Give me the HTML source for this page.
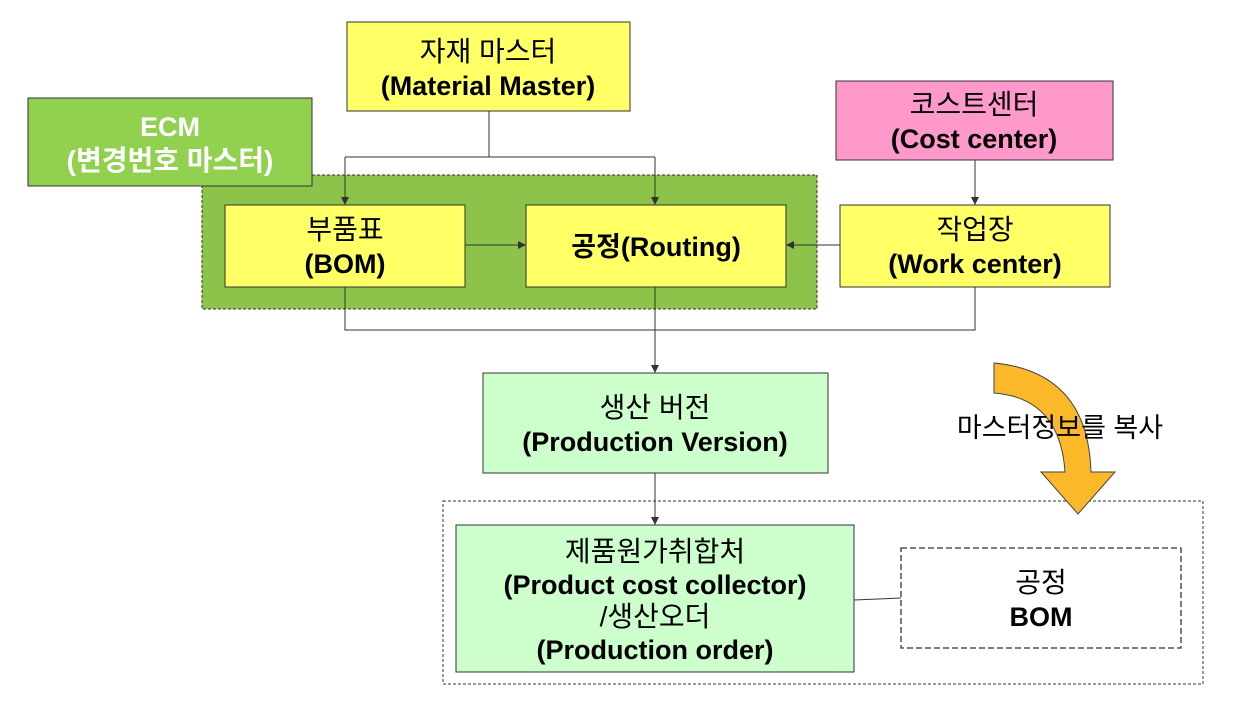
<!DOCTYPE html>
<html><head><meta charset="utf-8"><style>
body{margin:0;background:#fff;}
svg text{font-family:"Liberation Sans","Noto Sans CJK KR",sans-serif;font-size:27px;text-anchor:middle;}
.b{font-weight:bold;}
.k{font-size:28px;}
</style></head><body>
<svg width="1233" height="703" xmlns="http://www.w3.org/2000/svg">
<defs><marker id="a" markerWidth="8" markerHeight="8" refX="7" refY="4" orient="auto" markerUnits="userSpaceOnUse"><path d="M0,0 L8,4 L0,8 z" fill="#333"/></marker></defs>
<rect x="202" y="175" width="615" height="134" fill="#8DC34A" stroke="#333" stroke-dasharray="3,2"/>
<g stroke="#333" stroke-width="1" fill="none">
<polyline points="489,111 489,157"/>
<polyline points="345,157 655,157"/>
<line x1="345" y1="157" x2="345" y2="204" marker-end="url(#a)"/>
<line x1="655" y1="157" x2="655" y2="204" marker-end="url(#a)"/>
<line x1="465" y1="245" x2="525" y2="245" marker-end="url(#a)"/>
<line x1="840" y1="245" x2="787" y2="245" marker-end="url(#a)"/>
<line x1="975" y1="160" x2="975" y2="204" marker-end="url(#a)"/>
<polyline points="345,287 345,330 975,330 975,287"/>
<line x1="655" y1="287" x2="655" y2="372" marker-end="url(#a)"/>
<line x1="655" y1="473" x2="655" y2="524" marker-end="url(#a)"/>
<line x1="854" y1="600" x2="901" y2="598"/>
</g>
<rect x="347" y="22" width="283" height="89" fill="#FFFF66" stroke="#333"/>
<text class="k" x="488" y="61">자재 마스터</text><text class="b" x="488" y="95">(Material Master)</text>
<rect x="28" y="98" width="284" height="88" fill="#92D050" stroke="#333"/>
<text class="b" x="170" y="136" fill="#fff">ECM</text><text class="b k" x="170" y="170" fill="#fff">(변경번호 마스터)</text>
<rect x="836" y="81" width="277" height="79" fill="#FF99CC" stroke="#333"/>
<text class="k" x="974" y="114">코스트센터</text><text class="b" x="974" y="148">(Cost center)</text>
<rect x="225" y="205" width="240" height="82" fill="#FFFF66" stroke="#333"/>
<text class="k" x="345" y="239">부품표</text><text class="b" x="345" y="273">(BOM)</text>
<rect x="526" y="205" width="260" height="82" fill="#FFFF66" stroke="#333"/>
<text class="b" x="656" y="256">공정(Routing)</text>
<rect x="840" y="205" width="270" height="82" fill="#FFFF66" stroke="#333"/>
<text class="k" x="975" y="239">작업장</text><text class="b" x="975" y="273">(Work center)</text>
<rect x="483" y="373" width="345" height="100" fill="#CCFFCC" stroke="#333"/>
<text class="k" x="655" y="417">생산 버전</text><text class="b" x="655" y="451">(Production Version)</text>
<rect x="443" y="501" width="760" height="183" fill="none" stroke="#333" stroke-dasharray="3,2"/>
<rect x="456" y="525" width="398" height="147" fill="#CCFFCC" stroke="#333"/>
<text class="k" x="655" y="561">제품원가취합처</text><text class="b" x="655" y="594">(Product cost collector)</text>
<text class="k" x="655" y="626">/생산오더</text><text class="b" x="655" y="659">(Production order)</text>
<rect x="901" y="548" width="280" height="100" fill="#fff" stroke="#333" stroke-dasharray="6,3" stroke-width="1.3"/>
<text class="k" x="1041" y="592">공정</text><text class="b" x="1041" y="626">BOM</text>
<path d="M994,363 Q1088,372 1091,472 L1115,472 L1078,514 L1041,472 L1065,472 Q1060,398 994,393 Z" fill="#FBB829" stroke="#444"/>
<text x="1060" y="437" style="font-size:27px">마스터정보를 복사</text>
</svg>
</body></html>
